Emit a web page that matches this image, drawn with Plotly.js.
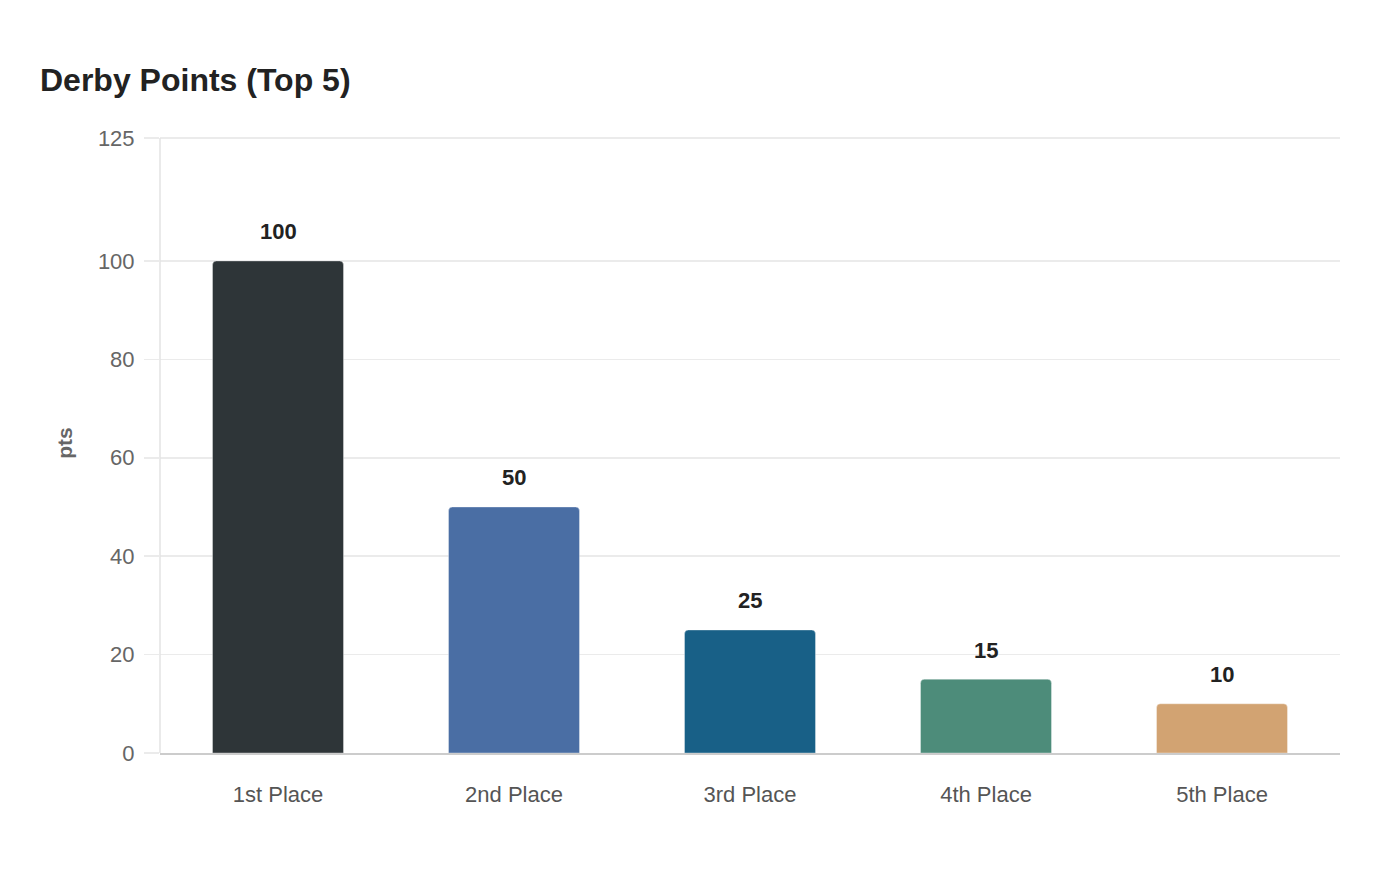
<!DOCTYPE html>
<html>
<head>
<meta charset="utf-8">
<script src="https://cdn.plot.ly/plotly-3.0.1.min.js"></script>
<style>
  html, body { margin: 0; padding: 0; background: #fff; }
  #chart { width: 1400px; height: 880px; }
</style>
</head>
<body>
<div id="chart"></div>
<script>
var places = ["1st Place", "2nd Place", "3rd Place", "4th Place", "5th Place"];
var points = [100, 50, 25, 15, 10];
var barColors = ["#2e3538", "#4a6ea4", "#186087", "#4d8c7a", "#d2a372"];
var yTicks = [0, 20, 40, 60, 80, 100, 125];

var trace = {
    type: "bar",
    x: places,
    y: points,
    width: 0.555,
    marker: {
        color: barColors,
        cornerradius: 4,
        line: { color: "rgba(255,255,255,0.35)", width: 1 }
    },
    hoverinfo: "skip"
};

// value labels above each bar
var labels = places.map((p, i) => ({
    x: p,
    y: points[i],
    text: "<b>" + points[i] + "</b>",
    showarrow: false,
    yanchor: "middle",
    yshift: 29,
    font: { size: 22, color: "#222", family: "Liberation Sans, Arial, sans-serif" }
}));

var layout = {
    width: 1400,
    height: 880,
    paper_bgcolor: "#fff",
    plot_bgcolor: "#fff",
    margin: { t: 133, b: 127, l: 160, r: 60 },
    font: { family: "Liberation Sans, Arial, sans-serif", color: "#555" },
    title: {
        text: "<b>Derby Points (Top 5)</b>",
        font: { size: 32, color: "#222" },
        xref: "container", yref: "container",
        x: 40 / 1400, xanchor: "left",
        y: 1 - 80 / 880, yanchor: "middle"
    },
    showlegend: false,
    bargap: 0.445,
    xaxis: {
        type: "category",
        showgrid: false,
        showline: true,
        linecolor: "#cccccc",
        linewidth: 1.5,
        ticks: "",
        ticklabelstandoff: 21,
        tickfont: { size: 22, color: "#555" },
        zeroline: false
    },
    yaxis: {
        range: [0, 126],
        tickvals: yTicks,
        ticktext: yTicks.map(String),
        showgrid: true,
        gridcolor: "#ebebeb",
        gridwidth: 1.5,
        showline: false,
        ticks: "outside",
        ticklen: 15,
        tickcolor: "#ebebeb",
        tickwidth: 1.5,
        ticklabelstandoff: 5,
        tickfont: { size: 22, color: "#666" },
        zeroline: false,
        title: {
            text: "<b>pts</b>",
            font: { size: 21, color: "#666" },
            standoff: 19
        }
    },
    shapes: [{
        // left axis line, stopping at the 125 gridline
        type: "line",
        xref: "paper", yref: "y",
        x0: 0, x1: 0,
        y0: 0, y1: yTicks[yTicks.length - 1],
        line: { color: "#e3e3e3", width: 1.5 }
    }],
    annotations: labels
};

Plotly.newPlot("chart", [trace], layout, { displayModeBar: false, staticPlot: true });
</script>
</body>
</html>
